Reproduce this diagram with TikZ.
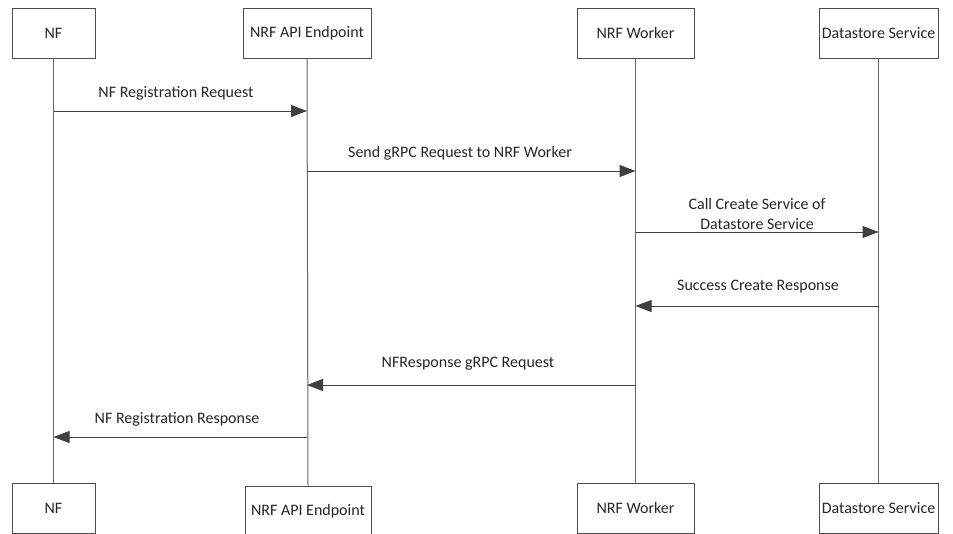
\documentclass[tikz,border=0pt]{standalone}
\usepackage{fontspec}
\setmainfont{Carlito}
\usetikzlibrary{arrows.meta}
\begin{document}
\begin{tikzpicture}[x=1pt,y=-1pt,
  actor/.style={draw=black!70,line width=0.9pt,fill=white,minimum height=50pt,inner sep=0pt,font=\fontsize{16}{18}\selectfont,text=black!85},
  life/.style={draw=black!60,line width=1pt},
  msg/.style={draw=black!75,line width=1pt,-{Triangle[length=16pt,width=12pt]}},
  lbl/.style={font=\fontsize{16}{20}\selectfont,text=black!85,align=center,inner sep=0pt}]
\useasboundingbox (0,0) rectangle (953,533);
\fill[white] (0,0) rectangle (953,533);
% participant boxes, top row
\node[actor,minimum width=83pt]  (nfT) at (53.5,33)  {NF};
\node[actor,minimum width=128pt] (apiT) at (307,33)  {NRF API Endpoint};
\node[actor,minimum width=117pt] (wkT) at (635.5,33) {NRF Worker};
\node[actor,minimum width=119pt] (dsT) at (878.5,33) {Datastore Service};
% participant boxes, bottom row
\node[actor,minimum width=83pt]  (nfB) at (53.5,508)  {NF};
\node[actor,minimum width=126pt] (apiB) at (308,511)  {NRF API Endpoint};
\node[actor,minimum width=117pt] (wkB) at (635.5,508) {NRF Worker};
\node[actor,minimum width=119pt] (dsB) at (878.5,508) {Datastore Service};
% lifelines
\draw[life] (nfT.south) -- (nfB.north);
\draw[life] (apiT.south) -- (apiB.north);
\draw[life] (wkT.south) -- (wkB.north);
\draw[life] (dsT.south) -- (dsB.north);
% message anchor points on the lifelines
\coordinate (m1a) at (nfT.south |- 0,111);  \coordinate (m1b) at (apiT.south |- 0,111);
\coordinate (m2a) at (apiT.south |- 0,171); \coordinate (m2b) at (wkT.south |- 0,171);
\coordinate (m3a) at (wkT.south |- 0,232);  \coordinate (m3b) at (dsT.south |- 0,232);
\coordinate (m4a) at (dsT.south |- 0,306);  \coordinate (m4b) at (wkT.south |- 0,306);
\coordinate (m5a) at (wkT.south |- 0,385);  \coordinate (m5b) at (apiT.south |- 0,385);
\coordinate (m6a) at (apiT.south |- 0,437); \coordinate (m6b) at (nfT.south |- 0,437);
% messages
\draw[msg] (m1a) -- (m1b);
\draw[msg] (m2a) -- (m2b);
\draw[msg] (m3a) -- (m3b);
\draw[msg] (m4a) -- (m4b);
\draw[msg] (m5a) -- (m5b);
\draw[msg] (m6a) -- (m6b);
% message labels
\node[lbl] (l1) at (176,93)  {NF Registration Request};
\node[lbl] (l2) at (460,153) {Send gRPC Request to NRF Worker};
\node[lbl] (l3) at (757,214) {Call Create Service of\\Datastore Service};
\node[lbl] (l4) at (758,287) {Success Create Response};
\node[lbl] (l5) at (468,364) {NFResponse gRPC Request};
\node[lbl] (l6) at (177,419) {NF Registration Response};
\end{tikzpicture}
\end{document}
